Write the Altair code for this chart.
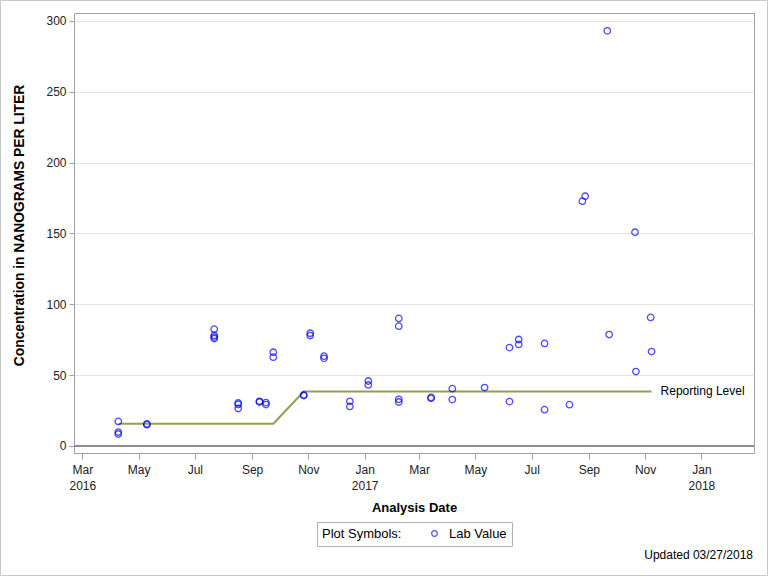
import altair as alt
import pandas as pd

# Lab values (date, value)
lab_dates = [
    "2016-04-09", "2016-04-09", "2016-04-09",
    "2016-05-10", "2016-05-10",
    "2016-07-22", "2016-07-22", "2016-07-22", "2016-07-22",
    "2016-08-17", "2016-08-17", "2016-08-17",
    "2016-09-09", "2016-09-09",
    "2016-09-16", "2016-09-16",
    "2016-09-24", "2016-09-24",
    "2016-10-27", "2016-10-27",
    "2016-11-03", "2016-11-03",
    "2016-11-18", "2016-11-18",
    "2016-12-16", "2016-12-16",
    "2017-01-05", "2017-01-05",
    "2017-02-07", "2017-02-07", "2017-02-07", "2017-02-07",
    "2017-03-14", "2017-03-14",
    "2017-04-06", "2017-04-06",
    "2017-05-11",
    "2017-06-07", "2017-06-07",
    "2017-06-17", "2017-06-17",
    "2017-07-15", "2017-07-15",
    "2017-08-11",
    "2017-08-25",
    "2017-08-28",
    "2017-09-21",
    "2017-09-23",
    "2017-10-21",
    "2017-10-22",
    "2017-11-07",
    "2017-11-08",
]
lab_values = [
    17.3, 9.8, 8.4,
    15.5, 15.0,
    82.4, 78.0, 76.8, 75.8,
    30.3, 29.3, 26.4,
    31.5, 31.0,
    30.6, 29.2,
    66.1, 62.6,
    36.0, 35.5,
    79.5, 77.9,
    63.3, 61.8,
    31.5, 27.9,
    45.8, 43.0,
    90.0, 84.5, 32.9, 31.0,
    34.2, 33.6,
    40.4, 32.7,
    41.2,
    69.4, 31.3,
    75.1, 71.6,
    72.3, 25.6,
    29.1,
    172.7,
    176.2,
    292.9,
    78.6,
    150.8,
    52.5,
    90.7,
    66.6,
]

# Reporting level line
rl_dates = ["2016-04-09", "2016-09-24", "2016-10-27", "2017-11-08"]
rl_values = [15.7, 15.7, 38.4, 38.4]
rl_label = "Reporting Level"

y_ticks = [0, 50, 100, 150, 200, 250, 300]
x_tick_months = [(2016, 3), (2016, 5), (2016, 7), (2016, 9), (2016, 11), (2017, 1),
                 (2017, 3), (2017, 5), (2017, 7), (2017, 9), (2017, 11), (2018, 1)]

FONT = "Liberation Sans"

lab_df = pd.DataFrame({"date": lab_dates, "value": lab_values, "series": ["Lab Value"] * len(lab_dates)})
rl_df = pd.DataFrame({"date": rl_dates, "value": rl_values})
rl_end = pd.DataFrame({"date": [rl_dates[-1]], "value": [rl_values[-1]], "label": [rl_label]})
one = pd.DataFrame({"k": [0]})

x_scale = alt.Scale(type="utc", domain=[alt.DateTime(year=2016, month=2, date=21, utc=True),
                                        alt.DateTime(year=2018, month=2, date=27, utc=True)])
y_scale = alt.Scale(domain=[-5, 305.5], nice=False, zero=False)

label_expr = ("(utcmonth(datum.value) == 0 || (utcmonth(datum.value) == 2 && utcyear(datum.value) == 2016))"
              " ? [utcFormat(datum.value, '%b'), utcFormat(datum.value, '%Y')]"
              " : utcFormat(datum.value, '%b')")

x_axis = alt.Axis(
    title="Analysis Date",
    values=[alt.DateTime(year=y, month=m, date=1, utc=True) for y, m in x_tick_months],
    labelExpr=label_expr,
    grid=False, domain=False, tickColor="#a0a0a0", tickSize=6,
    labelPadding=5, labelLineHeight=16, labelFontSize=12, labelColor="#222222",
    titleFontSize=13, titleFontWeight="bold", titlePadding=10, titleColor="#000000",
    labelFont=FONT, titleFont=FONT,
)
y_axis = alt.Axis(
    title="Concentration in NANOGRAMS PER LITER",
    values=y_ticks, grid=True, gridColor="#e4e4e4", domain=False,
    tickColor="#a0a0a0", tickSize=5, labelPadding=3, labelFontSize=12, labelColor="#222222",
    titleFontSize=13.8, titleFontWeight="bold", titlePadding=19, titleColor="#000000",
    titleY=212,
    labelFont=FONT, titleFont=FONT,
)

X = alt.X("date:T", scale=x_scale, axis=x_axis)
Y = alt.Y("value:Q", scale=y_scale, axis=y_axis)

zero_line = alt.Chart(one).mark_rule(color="#8c8c8c", strokeWidth=2).encode(y=alt.datum(0))

rl_line = alt.Chart(rl_df).mark_line(color="#8ca24f", strokeWidth=2).encode(x=X, y=Y)

rl_text = alt.Chart(rl_end).mark_text(align="left", baseline="middle", dx=9, fontSize=12,
                                       font=FONT, color="#000000").encode(x=X, y=Y, text="label:N")

points = alt.Chart(lab_df).mark_point(filled=False, size=42, strokeWidth=1.3, shape="circle").encode(
    x=X, y=Y,
    color=alt.Color("series:N", scale=alt.Scale(range=["#0000ff"]),
                    legend=alt.Legend(
                        title="Plot Symbols:", orient="none", legendX=243, legendY=509,
                        direction="horizontal", titleOrient="left", titleFontWeight="normal",
                        titleFontSize=13, labelFontSize=13, titleFont=FONT, labelFont=FONT,
                        titleColor="#000000", labelColor="#000000", titlePadding=26,
                        labelOffset=8,
                        strokeColor="#b0b0b0", padding=5, symbolSize=32, symbolStrokeWidth=1.2,
                        titleBaseline="middle", titleAnchor="middle",
                    )),
)

updated = alt.Chart(one).mark_text(align="right", baseline="middle", fontSize=12, font=FONT,
                                   color="#000000", text="Updated 03/27/2018").encode(
    x=alt.value(679), y=alt.value(542))

border = alt.Chart(one).mark_rect(fill=None, fillOpacity=0, stroke="#c8c8c8", strokeWidth=1).encode(
    x=alt.value(-73.5), x2=alt.value(693.5), y=alt.value(-12.5), y2=alt.value(562.5))

chart = alt.layer(zero_line, rl_line, points, rl_text, updated, border).properties(
    width=680, height=440,
    autosize=alt.AutoSizeParams(type="none"),
    padding={"left": 74, "top": 13, "right": 14, "bottom": 123},
    background="#ffffff",
).configure_view(stroke="#a0a0a0", strokeWidth=1)

chart.save("out.html", embed_options={"renderer": "svg", "actions": False})
